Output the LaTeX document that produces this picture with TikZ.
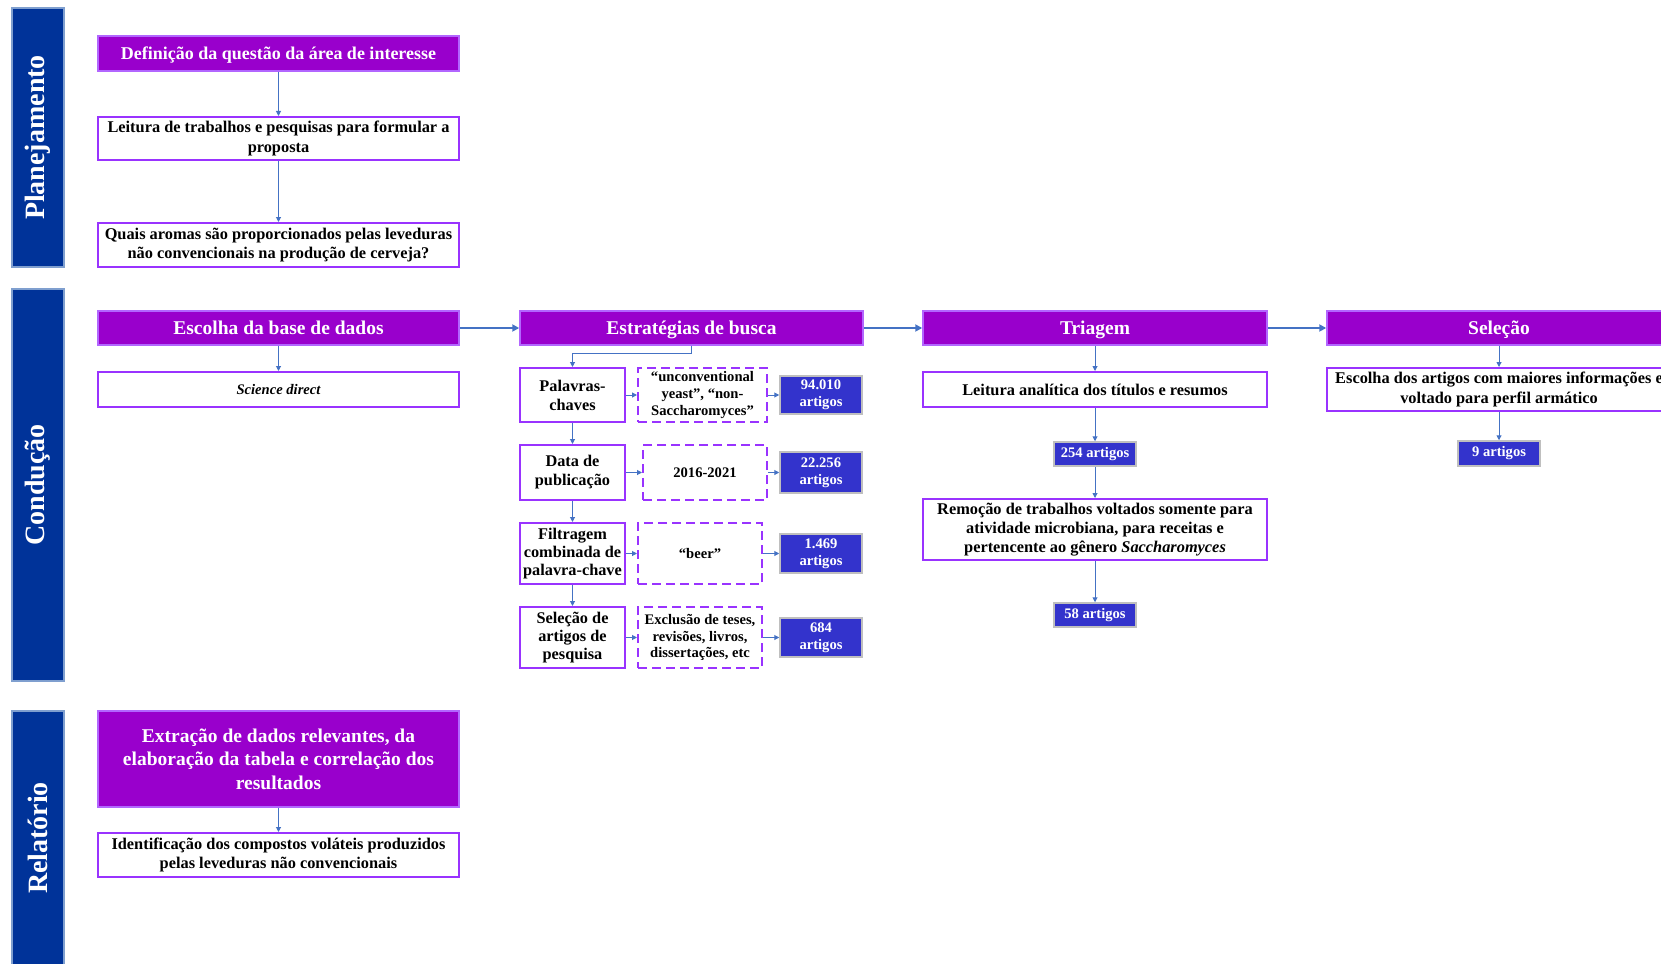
\documentclass[tikz,border=0pt]{standalone}
\usepackage{fontspec}
\setmainfont{Liberation Serif}
\usetikzlibrary{arrows.meta}
\definecolor{sidebg}{HTML}{003399}
\definecolor{sidebd}{HTML}{7F9FCF}
\definecolor{purp}{HTML}{9900CC}
\definecolor{purpbd}{HTML}{B266FF}
\definecolor{wbd}{HTML}{9933FF}
\definecolor{cntbg}{HTML}{3333CC}
\definecolor{cntbd}{HTML}{BFBFBF}
\definecolor{arrc}{HTML}{4472C4}
\newcommand{\fs}[2]{\fontsize{#1}{#2}\selectfont\bfseries}
\tikzset{
  sidebar/.style={fill=sidebg, draw=sidebd, line width=1.5pt, inner sep=0pt, text=white},
  sidelabel/.style={rotate=90, text=white, font=\fs{28}{32}},
  hdr/.style={fill=purp, draw=purpbd, line width=1.5pt, inner sep=0pt, text=white, align=center, font=\fs{19.5}{23.5}},
  onehdr/.style={hdr, text depth=0pt},
  wbox/.style={fill=white, draw=wbd, line width=2pt, inner sep=0pt, align=center, font=\fs{16.35}{19.8}},
  dbox/.style={fill=white, draw=wbd, line width=2pt, dash pattern=on 9pt off 5pt, inner sep=0pt, align=center, font=\fs{14.6}{16.8}},
  cnt/.style={fill=cntbg, draw=cntbd, line width=1.5pt, inner sep=0pt, text=white, align=center, font=\fs{14.6}{16.8}},
  arr/.style={draw=arrc, line width=1pt, -{Triangle[length=5pt,width=5pt]}},
  bigarr/.style={draw=arrc, line width=2.5pt, -{Triangle[length=7pt,width=7pt]}},
}
\begin{document}
\begin{tikzpicture}[x=1pt,y=-1pt]
\useasboundingbox (0,0) rectangle (1661,963);
\clip (0,0) rectangle (1661,963);

% side bars
\node[sidebar, minimum width=52pt, minimum height=259pt] (sbP) at (38,137.5) {};
\node[sidelabel] (lP) at (sbP.center) {Planejamento};
\node[sidebar, minimum width=52pt, minimum height=392pt] (sbC) at (38,485) {};
\node[sidelabel] (lC) at (sbC.center) {Condução};
\node[sidebar, minimum width=52pt, minimum height=270pt] (sbR) at (38,846) {};
\node[sidelabel] (lR) at (38,838) {Relatório};

% Planejamento
\node[onehdr, font=\fs{18}{22}, minimum width=361pt, minimum height=35pt] (def) at (278.5,53.5) {Definição da questão da área de interesse};
\node[wbox, minimum width=361pt, minimum height=43pt] (leit) at (278.5,138.5) {Leitura de trabalhos e pesquisas para formular a\\proposta};
\node[wbox, minimum width=361pt, minimum height=44pt] (quais) at (278.5,245) {Quais aromas são proporcionados pelas leveduras\\não convencionais na produção de cerveja?};

% Condução headers
\node[onehdr, minimum width=361pt, minimum height=34pt] (esc) at (278.5,328) {Escolha da base de dados};
\node[onehdr, minimum width=343pt, minimum height=34pt] (estr) at (691.5,328) {Estratégias de busca};
\node[onehdr, minimum width=344pt, minimum height=34pt] (tri) at (1095,328) {Triagem};
\node[onehdr, minimum width=344pt, minimum height=34pt] (sel) at (1499,328) {Seleção};

\node[wbox, font=\fs{14.6}{17}, minimum width=361pt, minimum height=35pt] (sci) at (278.5,389.5) {\itshape Science direct};

% search strategy column
\node[wbox, font=\fs{16.3}{19}, minimum width=105pt, minimum height=54pt] (pal) at (572.5,395) {Palavras-\\chaves};
\node[wbox, font=\fs{16.3}{19}, minimum width=105pt, minimum height=55pt] (dat) at (572.5,472.5) {Data de\\publicação};
\node[wbox, font=\fs{16.3}{18.3}, minimum width=105pt, minimum height=61pt] (fil) at (572.5,553.5) {Filtragem\\combinada de\\palavra-chave};
\node[wbox, font=\fs{16.3}{18.3}, minimum width=105pt, minimum height=61pt] (sela) at (572.5,637.5) {Seleção de\\artigos de\\pesquisa};

\node[dbox, minimum width=129pt, minimum height=54pt] (d1) at (702.5,395) {“unconventional\\yeast”, “non-\\Saccharomyces”};
\node[dbox, minimum width=124pt, minimum height=55pt] (d2) at (705,472.5) {2016-2021};
\node[dbox, minimum width=124pt, minimum height=61pt] (d3) at (700,553.5) {“beer”};
\node[dbox, minimum width=124pt, minimum height=61pt] (d4) at (700,637.5) {Exclusão de teses,\\revisões, livros,\\dissertações, etc};

\node[cnt, minimum width=82pt, minimum height=38pt] (c1) at (821,395) {94.010\\artigos};
\node[cnt, minimum width=82pt, minimum height=41pt] (c2) at (821,472.5) {22.256\\artigos};
\node[cnt, minimum width=82pt, minimum height=39pt] (c3) at (821,553.5) {1.469\\artigos};
\node[cnt, minimum width=82pt, minimum height=39pt] (c4) at (821,637.5) {684\\artigos};

% triagem column
\node[wbox, minimum width=344pt, minimum height=35pt] (lan) at (1095,389.5) {Leitura analítica dos títulos e resumos};
\node[cnt, minimum width=82pt, minimum height=24pt] (c254) at (1095,454) {254 artigos};
\node[wbox, font=\fs{16.35}{19.3}, minimum width=344pt, minimum height=61pt] (rem) at (1095,529.5) {Remoção de trabalhos voltados somente para\\atividade microbiana, para receitas e\\pertencente ao gênero \textit{Saccharomyces}};
\node[cnt, minimum width=82pt, minimum height=24pt] (c58) at (1095,615) {58 artigos};

% seleção column
\node[wbox, minimum width=344pt, minimum height=43pt] (esco) at (1499,389.5) {Escolha dos artigos com maiores informações e\\voltado para perfil armático};
\node[cnt, minimum width=82pt, minimum height=25pt] (c9) at (1499,453.5) {9 artigos};

% Relatório
\node[hdr, minimum width=361pt, minimum height=96pt] (ext) at (278.5,759) {Extração de dados relevantes, da\\elaboração da tabela e correlação dos\\resultados};
\node[wbox, minimum width=361pt, minimum height=44pt] (ident) at (278.5,855) {Identificação dos compostos voláteis produzidos\\pelas leveduras não convencionais};

% arrows
\draw[arr] (def.south) -- (leit.north);
\draw[arr] (leit.south) -- (quais.north);
\draw[bigarr] (esc.east) -- (estr.west);
\draw[bigarr] (estr.east) -- (tri.west);
\draw[bigarr] (tri.east) -- (sel.west);
\draw[arr] (esc.south) -- (sci.north);
\draw[arr] (estr.south) -- ++(0,8) -| (pal.north);
\draw[arr] (pal.south) -- (dat.north);
\draw[arr] (dat.south) -- (fil.north);
\draw[arr] (fil.south) -- (sela.north);
\draw[arr] (pal.east) -- (d1.west);
\draw[arr] (dat.east) -- (d2.west);
\draw[arr] (fil.east) -- (d3.west);
\draw[arr] (sela.east) -- (d4.west);
\draw[arr] (d1.east) -- (c1.west);
\draw[arr] (d2.east) -- (c2.west);
\draw[arr] (d3.east) -- (c3.west);
\draw[arr] (d4.east) -- (c4.west);
\draw[arr] (tri.south) -- (lan.north);
\draw[arr] (lan.south) -- (c254.north);
\draw[arr] (c254.south) -- (rem.north);
\draw[arr] (rem.south) -- (c58.north);
\draw[arr] (sel.south) -- (esco.north);
\draw[arr] (esco.south) -- (c9.north);
\draw[arr] (ext.south) -- (ident.north);
\end{tikzpicture}
\end{document}
